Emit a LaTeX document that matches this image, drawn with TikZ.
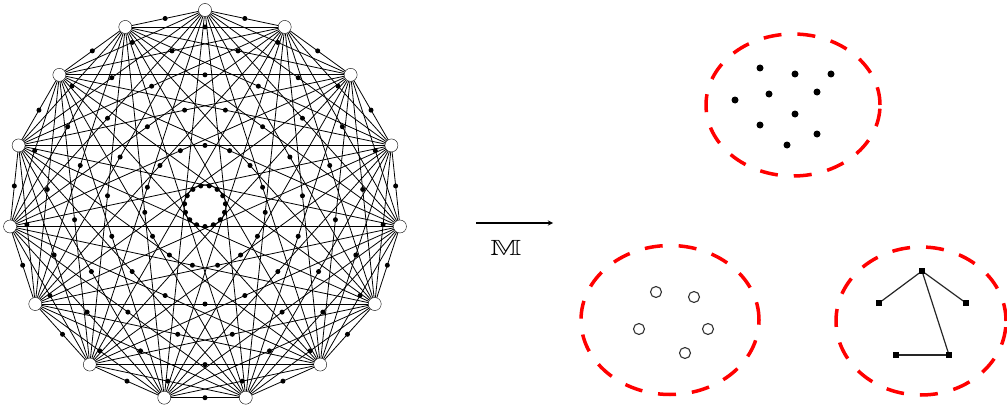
\documentclass[tikz,border=0pt]{standalone}
\usepackage{amsmath,amssymb}
\usetikzlibrary{arrows,calc,shapes.geometric}

\begin{document}
\begin{tikzpicture}[x=1pt,y=-1pt,
  vertex/.style={circle,draw,thin,fill=white,inner sep=0pt,minimum size=13pt},
  middot/.style={circle,fill=black,inner sep=0pt,minimum size=5pt},
  edge/.style={line width=0.8pt},
  arrow/.style={->,>=stealth,line width=1.3pt},
  blob/.style={ellipse,draw=red,line width=3.5pt,dash pattern=on 18pt off 16pt,inner sep=0pt},
  point/.style={circle,fill=black,inner sep=0pt,minimum size=7pt},
  hollow/.style={circle,draw=black!80,line width=1.1pt,fill=white,inner sep=0pt,minimum size=11pt},
  leaf/.style={rectangle,fill=black,inner sep=0pt,minimum size=5.5pt},
  link/.style={line width=1.2pt,black!85},
]
\useasboundingbox (0,0) rectangle (1007,412);

% === COMPLETE GRAPH ON 15 VERTICES ===
\foreach \k in {1,...,15}
  \node[vertex] (v\k) at ({205+196*cos(66+24*\k)},{206-196*sin(66+24*\k)}) {};

\foreach \i in {1,...,14} {
  \pgfmathtruncatemacro{\nxt}{\i+1}
  \foreach \j in {\nxt,...,15}
    \draw[edge] (v\i) -- (v\j);
}

% midpoints of the edges
\foreach \i in {1,...,14} {
  \pgfmathtruncatemacro{\nxt}{\i+1}
  \foreach \j in {\nxt,...,15}
    \node[middot] (m\i-\j) at ($(v\i)!0.5!(v\j)$) {};
}

% === MAP ===
\coordinate (mapfrom) at (476,223);
\coordinate (mapto) at (553,223);
\draw[arrow] (mapfrom) -- (mapto);
\node[inner sep=0pt] (maplabel) at (506,248) {\fontsize{22}{24}\selectfont\scalebox{1.5}[1]{$\mathbb{M}$}};

% === PIECES ===
\node[blob,minimum width=174pt,minimum height=142pt] (top) at (793,105) {};
\node[blob,minimum width=178pt,minimum height=149pt] (left) at (670,320) {};
\node[blob,minimum width=170pt,minimum height=148pt] (right) at (921,321) {};

% isolated points
\foreach \p [count=\n] in {(760,68),(795,74),(831,74),(735,100),(769,94),(817,92),(795,114),(760,125),(817,134),(787,145)}
  \node[point] (d\n) at \p {};

% isolated hollow vertices
\foreach \p [count=\n] in {(656,292),(694,297),(639,329),(708,329),(685,353)}
  \node[hollow] (w\n) at \p {};

% small tree
\node[leaf] (ta) at (922,271) {};
\node[leaf] (tb) at (879,303) {};
\node[leaf] (tc) at (966,303) {};
\node[leaf] (td) at (896,355) {};
\node[leaf] (te) at (949,355) {};
\draw[link] (ta) -- (tb);
\draw[link] (ta) -- (tc);
\draw[link] (ta) -- (te);
\draw[link] (td) -- (te);

\end{tikzpicture}
\end{document}
